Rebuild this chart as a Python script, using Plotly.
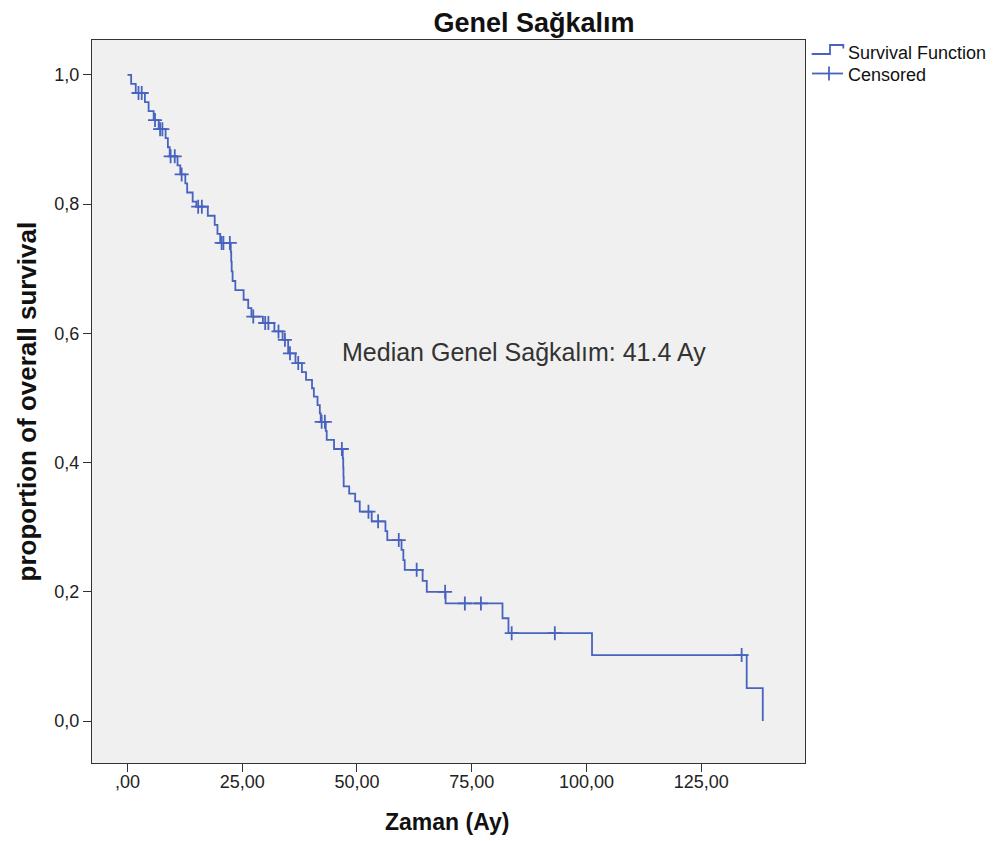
import plotly.graph_objects as go

# Kaplan-Meier step vertices (time in months, survival proportion after the event)
step_time = [0.0, 0.8, 1.8, 3.8, 4.6, 5.7, 6.8, 8.3, 8.8, 9.2, 10.9, 11.5, 12.6, 13.0,
             14.2, 15.0, 17.5, 19.0, 19.6, 20.2, 22.5, 22.6, 22.7, 22.9, 23.5, 25.3,
             26.3, 27.0, 29.5, 32.0, 33.8, 35.0, 36.6, 38.0, 38.9, 40.2, 40.6, 41.4,
             41.9, 42.1, 43.2, 43.4, 45.0, 46.9, 47.0, 47.05, 47.1, 48.3, 49.6, 50.6,
             53.2, 56.2, 56.6, 59.7, 60.1, 60.4, 64.3, 65.2, 69.3, 81.7, 83.0, 101.2,
             134.9, 138.4]
step_surv = [1.000, 0.986, 0.972, 0.958, 0.944, 0.930, 0.916, 0.902, 0.888, 0.874, 0.860,
             0.846, 0.832, 0.818, 0.804, 0.796, 0.782, 0.768, 0.754, 0.740, 0.726, 0.711,
             0.696, 0.681, 0.667, 0.652, 0.639, 0.626, 0.616, 0.603, 0.590, 0.569, 0.554,
             0.540, 0.528, 0.515, 0.502, 0.489, 0.476, 0.463, 0.449, 0.435, 0.421, 0.407,
             0.392, 0.378, 0.363, 0.352, 0.340, 0.324, 0.309, 0.294, 0.280, 0.265, 0.249,
             0.234, 0.217, 0.200, 0.182, 0.159, 0.136, 0.102, 0.051, 0.000]

# Censored observations
censor_time = [2.4, 3.1, 6.0, 7.1, 7.6, 9.4, 10.3, 11.8, 15.4, 16.2, 20.5, 20.9, 22.3,
               27.4, 30.0, 30.7, 32.9, 34.3, 35.4, 37.2, 42.3, 43.0, 46.7, 52.5, 54.6,
               59.1, 63.0, 69.2, 73.5, 77.0, 83.7, 93.1, 133.8]
censor_surv = [0.972, 0.972, 0.930, 0.916, 0.916, 0.874, 0.874, 0.846, 0.796, 0.796,
               0.740, 0.740, 0.740, 0.626, 0.616, 0.616, 0.603, 0.590, 0.569, 0.554,
               0.463, 0.463, 0.421, 0.324, 0.309, 0.280, 0.234, 0.200, 0.182, 0.182,
               0.136, 0.136, 0.102]

x_tickvals = [0, 25, 50, 75, 100, 125]
x_ticktext = [",00", "25,00", "50,00", "75,00", "100,00", "125,00"]
y_tickvals = [0.0, 0.2, 0.4, 0.6, 0.8, 1.0]
y_ticktext = ["0,0", "0,2", "0,4", "0,6", "0,8", "1,0"]
legend_labels = ["Survival Function", "Censored"]

BLUE = "#4763bf"
FONT = "Arial, Liberation Sans, sans-serif"

# The page body has an 8px margin, so the figure is sized to fill the rest of the window.
FIG_W, FIG_H = 992, 833
PL, PT, PR, PB = 92, 40, 805, 763  # plot-area edges in window pixels


def px(xp):
    return (xp - PL) / (PR - PL)


def py(yp):
    return (PB - yp) / (PB - PT)


fig = go.Figure()
fig.add_trace(go.Scatter(
    x=step_time, y=step_surv, mode="lines", line=dict(color=BLUE, width=1.8, shape="hv"),
    name=legend_labels[0], hoverinfo="x+y", showlegend=False))
fig.add_trace(go.Scatter(
    x=censor_time, y=censor_surv, mode="markers",
    marker=dict(symbol="cross-thin", size=10, line=dict(color=BLUE, width=1.8)),
    name=legend_labels[1], hoverinfo="x+y", showlegend=False))

fig.add_annotation(
    x=46.3, y=0.571, xref="x", yref="y", text="Median Genel Sağkalım: 41.4 Ay",
    showarrow=False, xanchor="left", yanchor="middle",
    font=dict(family=FONT, size=25, color="#333333"))

fig.add_annotation(
    x=px(26), y=0.5, xref="paper", yref="paper", text="<b>proportion of overall survival</b>",
    showarrow=False, textangle=-90, xanchor="center", yanchor="middle",
    font=dict(family=FONT, size=26, color="#111111"))
fig.add_annotation(
    x=0.498, y=py(822), xref="paper", yref="paper", text="<b>Zaman (Ay)</b>",
    showarrow=False, xanchor="center", yanchor="middle",
    font=dict(family=FONT, size=23, color="#111111"))

# Legend (drawn manually to match the step / cross icons)
legend_line = dict(color=BLUE, width=1.8)
fig.add_shape(type="path", xref="paper", yref="paper", line=legend_line,
              path=f"M {px(811.7)} {py(54)} L {px(830)} {py(54)} L {px(830)} {py(45)} "
                   f"L {px(843.3)} {py(45)} L {px(843.3)} {py(48.5)}")
fig.add_shape(type="line", xref="paper", yref="paper", line=legend_line,
              x0=px(812), x1=px(843), y0=py(73.5), y1=py(73.5))
fig.add_shape(type="line", xref="paper", yref="paper", line=legend_line,
              x0=px(829), x1=px(829), y0=py(66.5), y1=py(80.5))
for label, yy in zip(legend_labels, [53, 75]):
    fig.add_annotation(x=px(846), y=py(yy), xref="paper", yref="paper", text=label,
                       showarrow=False, xanchor="left", yanchor="middle",
                       font=dict(family=FONT, size=18, color="#111111"))

fig.update_layout(
    width=FIG_W, height=FIG_H,
    margin=dict(l=PL - 8, r=FIG_W + 8 - PR, t=PT - 8, b=FIG_H + 8 - PB),
    paper_bgcolor="white", plot_bgcolor="#f0f0f0",
    title=dict(text="<b>Genel Sağkalım</b>", x=(534 - 8) / FIG_W, xanchor="center",
               xref="container", y=1 - (23 - 8) / FIG_H, yanchor="middle", yref="container",
               font=dict(family=FONT, size=27, color="#111111")),
    showlegend=False,
    font=dict(family=FONT),
)
fig.update_xaxes(
    range=[-7.73, 147.6], tickvals=x_tickvals, ticktext=x_ticktext,
    showgrid=False, zeroline=False, showline=True, mirror=True, linecolor="#333333",
    linewidth=1.2, ticks="outside", ticklen=8, tickcolor="#333333", ticklabelstandoff=-6,
    tickfont=dict(family=FONT, size=18, color="#222222"))
fig.update_yaxes(
    range=[-0.065, 1.054], tickvals=y_tickvals, ticktext=y_ticktext,
    showgrid=False, zeroline=False, showline=True, mirror=True, linecolor="#333333",
    linewidth=1.2, ticks="outside", ticklen=8, tickcolor="#333333",
    tickfont=dict(family=FONT, size=18, color="#222222"))

fig.write_html("out.html")
